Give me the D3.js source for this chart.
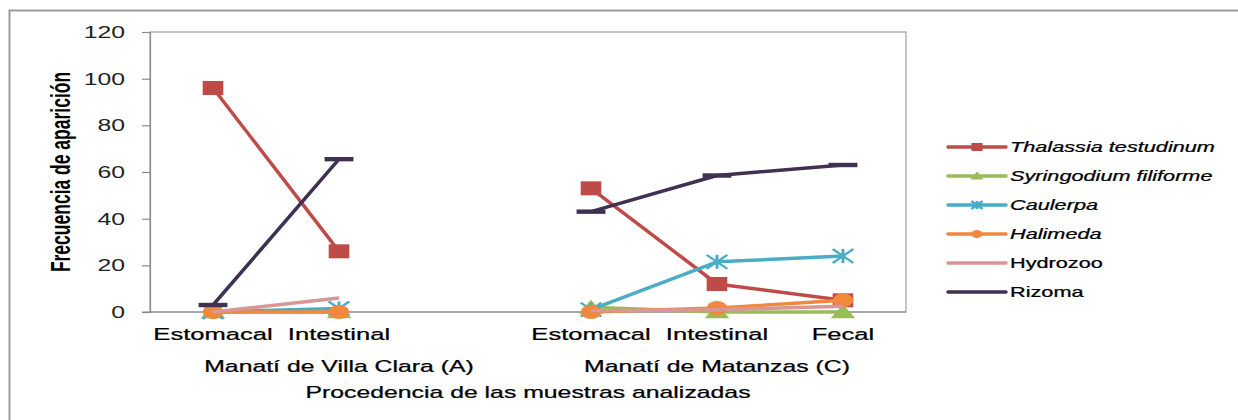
<!DOCTYPE html>
<html>
<head>
    <meta charset="utf-8">
    <title>Frecuencia de aparición</title>
    <script src="https://d3js.org/d3.v7.min.js"></script>
    <style>
        body { margin: 0; background: #fff; }
        text { font-family: "Liberation Sans", Arial, sans-serif; fill: #000; }
    </style>
</head>
<body>
    <svg width="1238" height="420"></svg>

    <script>
        // categories (index 2 is the empty gap between the two manatees)
        const categories = ["Estomacal", "Intestinal", "", "Estomacal", "Intestinal", "Fecal"];
        const groups = [
            { label: "Manatí de Villa Clara (A)", from: 0, to: 2 },
            { label: "Manatí de Matanzas (C)", from: 3, to: 5 }
        ];
        const yTicks = [0, 20, 40, 60, 80, 100, 120];

        // series values
        const thalassia   = [96, 26, null, 53, 12, 5];
        const syringodium = [0, 0, null, 2, 0, 0];
        const caulerpa    = [0, 1.5, null, 1, 21.5, 24];
        const halimeda    = [0, 0, null, 0, 1.7, 5];
        const hydrozoo    = [0, 6, null, 0.5, 1, 2.5];
        const rizoma      = [3, 65.5, null, 43, 58.5, 63];

        const seriesNames = ["Thalassia testudinum", "Syringodium filiforme", "Caulerpa", "Halimeda", "Hydrozoo", "Rizoma"];
        const seriesValues = [thalassia, syringodium, caulerpa, halimeda, hydrozoo, rizoma];
        const seriesColors = ["#BE4B48", "#9BBB59", "#4BACC6", "#F0893E", "#D99694", "#3F3151"];
        const seriesMarkers = ["square", "triangle", "star", "circle", "none", "dash"];
        const seriesItalic = [true, true, true, true, false, false];

        const svg = d3.select("svg");
        const SX = 1.55;   // the source picture is stretched horizontally

        // outer chart border (only top and left visible)
        svg.append("rect")
            .attr("x", 9.5).attr("y", 10.5)
            .attr("width", 1400).attr("height", 600)
            .attr("fill", "none")
            .attr("stroke", "#9a9a9a")
            .attr("stroke-width", 2);

        const plot = { left: 150, right: 906, top: 32, bottom: 312 };

        const x = d3.scaleBand()
            .domain(d3.range(categories.length))
            .range([plot.left, plot.right])
            .padding(0);

        const y = d3.scaleLinear()
            .domain([0, 120])
            .range([plot.bottom, plot.top]);

        const cx = i => x(i) + x.bandwidth() / 2;

        // plot area frame
        svg.append("rect")
            .attr("x", plot.left).attr("y", plot.top)
            .attr("width", plot.right - plot.left)
            .attr("height", plot.bottom - plot.top)
            .attr("fill", "none")
            .attr("stroke", "#a0a0a0")
            .attr("stroke-width", 1.2);

        // y axis
        const yAxis = svg.append("g")
            .attr("transform", `translate(${plot.left},0)`)
            .call(d3.axisLeft(y).tickValues(yTicks).tickSize(8).tickPadding(0));
        yAxis.select(".domain").attr("stroke", "#8a8a8a").attr("stroke-width", 1.2);
        yAxis.selectAll(".tick line").attr("stroke", "#8a8a8a").attr("stroke-width", 1.2);
        yAxis.selectAll(".tick text")
            .attr("x", -25 / SX)
            .attr("dy", "0.34em")
            .attr("transform", `scale(${SX},1)`)
            .style("font-family", "'Liberation Sans', Arial, sans-serif")
            .style("font-size", "16px")
            .style("fill", "#222");

        // x axis line across bottom
        svg.append("line")
            .attr("x1", plot.left - 8).attr("x2", plot.right)
            .attr("y1", plot.bottom).attr("y2", plot.bottom)
            .attr("stroke", "#8a8a8a").attr("stroke-width", 1.2);

        function stretchedText(sel, px, py, txt, size, opts = {}) {
            return sel.append("text")
                .attr("transform", `translate(${px},${py}) scale(${SX},1)` + (opts.rotate ? ` rotate(${opts.rotate})` : ""))
                .attr("text-anchor", opts.anchor || "middle")
                .attr("dy", opts.dy || 0)
                .style("font-size", size + "px")
                .style("font-weight", opts.weight || "normal")
                .style("font-style", opts.italic ? "italic" : "normal")
                .style("stroke", opts.weight ? "none" : "#000")
                .style("stroke-width", opts.weight ? 0 : 0.25)
                .text(txt);
        }

        // category labels
        categories.forEach((c, i) => {
            if (c) stretchedText(svg, cx(i), 340, c, 16.5);
        });
        // group labels, centred over their span of categories
        groups.forEach(g => {
            stretchedText(svg, (x(g.from) + x(g.to) + x.bandwidth()) / 2, 372, g.label, 16);
        });
        // axis titles
        stretchedText(svg, (plot.left + plot.right) / 2, 398, "Procedencia de las muestras analizadas", 16);
        stretchedText(svg, 60, 172, "Frecuencia de aparición", 17.5, { rotate: -90, weight: "bold", dy: "0.36em" });

        // markers
        function drawMarker(g, type, color, size) {
            const s = size;
            if (type === "square") {
                g.append("rect").attr("x", -s / 2).attr("y", -s / 2).attr("width", s).attr("height", s)
                    .attr("fill", color);
            } else if (type === "triangle") {
                g.append("path").attr("d", `M0,${-s * 0.55}L${s * 0.6},${s * 0.45}L${-s * 0.6},${s * 0.45}Z`)
                    .attr("fill", color);
            } else if (type === "circle") {
                g.append("circle").attr("r", s / 2).attr("fill", color);
            } else if (type === "star") {
                const r = s / 2;
                g.append("path")
                    .attr("d", `M${-r},${-r}L${r},${r}M${-r},${r}L${r},${-r}M0,${-r}L0,${r}`)
                    .attr("stroke", color).attr("stroke-width", 2).attr("fill", "none");
            } else if (type === "dash") {
                g.append("rect").attr("x", -s * 0.7).attr("y", -2.2).attr("width", s * 1.4).attr("height", 4.4)
                    .attr("fill", color);
            }
        }

        const line = d3.line()
            .defined(d => d != null)
            .x((d, i) => cx(i))
            .y(d => y(d));

        seriesValues.forEach((vals, k) => {
            const g = svg.append("g");
            g.append("path")
                .datum(vals)
                .attr("d", line)
                .attr("fill", "none")
                .attr("stroke", seriesColors[k])
                .attr("stroke-width", 3.5)
                .attr("stroke-linejoin", "round");
            vals.forEach((v, i) => {
                if (v == null) return;
                const m = g.append("g")
                    .attr("transform", `translate(${cx(i)},${y(v)}) scale(${SX * 0.95},1)`);
                drawMarker(m, seriesMarkers[k], seriesColors[k], 14);
            });
        });

        // legend
        const legend = svg.append("g");
        const legX1 = 948, legX2 = 1006, legY0 = 147, legStep = 29;
        seriesNames.forEach((name, k) => {
            const ly = legY0 + k * legStep;
            legend.append("line")
                .attr("x1", legX1).attr("x2", legX2)
                .attr("y1", ly).attr("y2", ly)
                .attr("stroke", seriesColors[k])
                .attr("stroke-width", 3.5)
                .attr("stroke-linecap", "round");
            const m = legend.append("g")
                .attr("transform", `translate(${(legX1 + legX2) / 2},${ly}) scale(${SX * 0.9},1)`);
            if (seriesMarkers[k] !== "dash") drawMarker(m, seriesMarkers[k], seriesColors[k], 8);
            stretchedText(legend, 1010, ly, name, 14, { anchor: "start", dy: "0.35em", italic: seriesItalic[k] });
        });
    </script>
</body>
</html>
